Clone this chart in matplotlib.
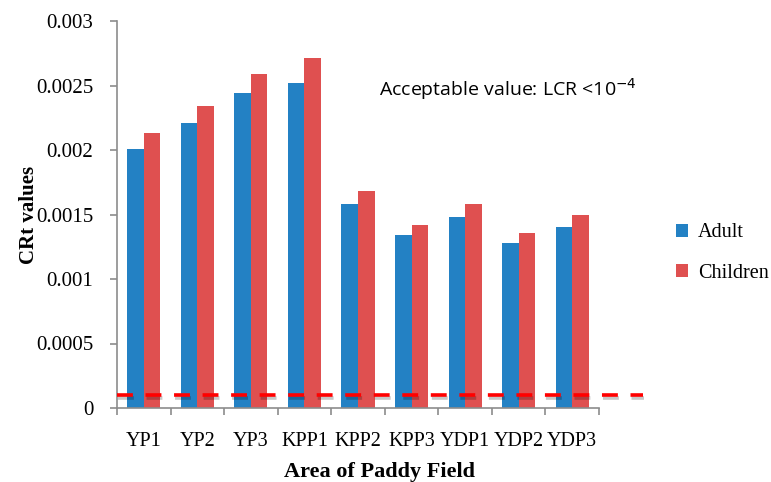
import numpy as np
import matplotlib
matplotlib.use("Agg")
import matplotlib.pyplot as plt
import matplotlib.patheffects as pe
from matplotlib.ticker import FixedLocator

# data
sites = ["YP1", "YP2", "YP3", "KPP1", "KPP2", "KPP3", "YDP1", "YDP2", "YDP3"]
adult = [0.00201, 0.00221, 0.00244, 0.00252, 0.00158, 0.00134, 0.00148, 0.00128, 0.00140]
children = [0.00213, 0.00234, 0.00259, 0.00271, 0.00168, 0.00142, 0.00158, 0.00136, 0.00150]
limit = 0.0001
yticks = [0, 0.0005, 0.001, 0.0015, 0.002, 0.0025, 0.003]
ytick_labels = ["0", "0.0005", "0.001", "0.0015", "0.002", "0.0025", "0.003"]

BLUE = "#2381C4"
RED = "#DF5050"
GREY = "#8C8C8C"

plt.rcParams["font.family"] = ["Liberation Serif", "DejaVu Serif"]

fig = plt.figure(figsize=(7.71, 4.82), dpi=100)
ax = fig.add_axes([117 / 771, 74 / 482, 482 / 771, 387 / 482])

x = np.arange(len(sites))
w = 0.31
ax.bar(x - w / 2, adult, w, color=BLUE, label="Adult")
ax.bar(x + w / 2, children, w, color=RED, label="Children")

# acceptable limit line, with a soft shadow
ax.plot([-0.5, 9.32], [limit, limit], color="#FF0000", lw=2.6,
        dashes=(4.4, 3.5), clip_on=False, zorder=5,
        path_effects=[pe.SimpleLineShadow(offset=(1, -2), alpha=0.22), pe.Normal()])

ax.set_xlim(-0.5, len(sites) - 0.5)
ax.set_ylim(0, 0.003)
ax.set_yticks(yticks)
ax.set_yticklabels(ytick_labels, fontsize=15)
ax.set_xticks(x)
ax.set_xticklabels(sites, fontsize=14.5)
ax.tick_params(axis="x", length=0, pad=17)
ax.xaxis.set_minor_locator(FixedLocator(np.arange(-0.5, len(sites), 1.0)))
ax.tick_params(axis="x", which="minor", length=5, color=GREY, width=1.2)
ax.tick_params(axis="y", length=5, color=GREY, width=1.2, pad=12)

for s in ["top", "right"]:
    ax.spines[s].set_visible(False)
for s in ["left", "bottom"]:
    ax.spines[s].set_color(GREY)
    ax.spines[s].set_linewidth(1.2)

ax.set_ylabel("CRt values", fontsize=15, fontweight="bold", labelpad=-2)
ax.set_xlabel("Area of Paddy Field", fontsize=16, fontweight="bold")
ax.xaxis.set_label_coords(0.544, -0.14)

ax.text(379 / 771, 1 - 89 / 482, "Acceptable value: LCR <10$^{\u22124}$",
        transform=fig.transFigure, fontsize=14, family="Open Sans", va="center")

ax.legend(loc="center left", bbox_to_anchor=(666 / 771, 1 - 253 / 482),
          bbox_transform=fig.transFigure, frameon=False,
          prop={"size": 14.5}, handlelength=0.6, handleheight=0.6,
          labelspacing=1.05, handletextpad=0.5, borderpad=0)

fig.savefig("out.png", dpi=100)
